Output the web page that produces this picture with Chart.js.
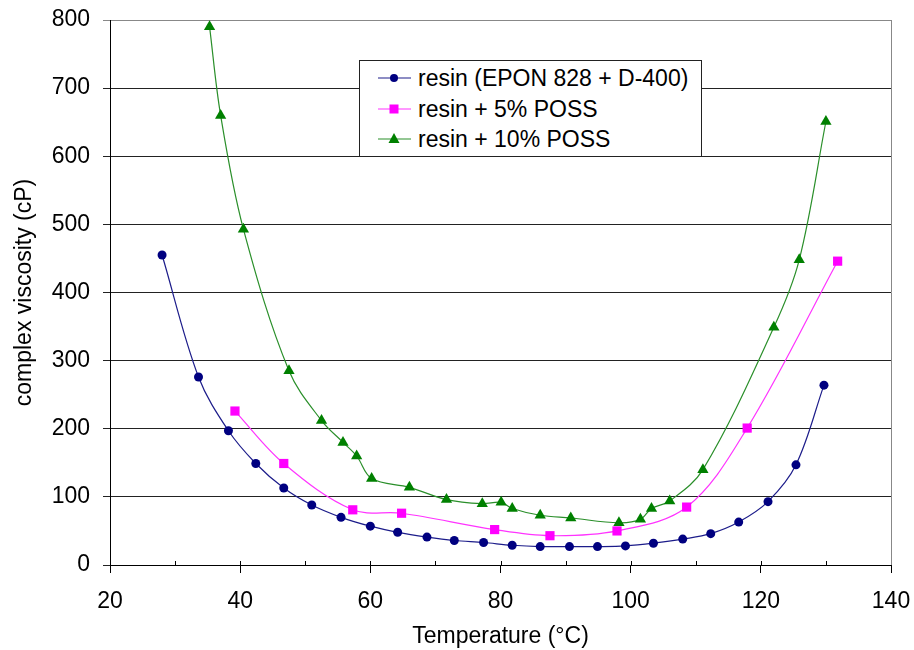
<!DOCTYPE html>
<html lang="en">
<head>
    <meta charset="UTF-8" />
    <title>Complex viscosity vs temperature</title>
    <script src="https://cdn.jsdelivr.net/npm/chart.js"></script>
    <style>
        body { margin: 0; background: #fff; }
        .wrap { position: relative; width: 914px; height: 650px; }
        .legend-box {
            position: absolute;
            left: 359px;
            top: 60px;
            width: 341px;
            height: 95px;
            border: 1px solid #222;
            background: #fff;
            font-family: 'Liberation Sans', Arial, sans-serif;
            font-size: 23px;
            color: #000;
        }
        .legend-row {
            position: absolute;
            left: 18px;
            height: 30px;
            display: flex;
            align-items: center;
            white-space: nowrap;
        }
        .legend-row svg { margin-right: 7px; }
    </style>
</head>
<body>
    <div class="wrap">
        <canvas id="viscChart" width="914" height="650"></canvas>
        <div class="legend-box" id="legend"></div>
    </div>

    <script>
        // values
        const seriesNames = ['resin (EPON 828 + D-400)', 'resin + 5% POSS', 'resin + 10% POSS'];

        const resinTemp = [28.0, 33.6, 38.2, 42.4, 46.7, 51.0, 55.5, 60.0, 64.2, 68.7, 72.9, 77.4,
                           81.8, 86.1, 90.6, 94.9, 99.2, 103.5, 108.0, 112.3, 116.6, 121.1, 125.4, 129.7];
        const resinVisc = [455, 276, 197, 149, 113, 88, 70, 57, 48, 41, 36, 33,
                           29, 27, 27, 27, 28, 32, 38, 46, 63, 93, 147, 264];

        const poss5Temp = [39.2, 46.7, 57.3, 64.8, 79.1, 87.6, 97.9, 108.6, 117.9, 131.8];
        const poss5Visc = [226, 149, 81, 76, 52, 43, 50, 85, 201, 446];

        const poss10Temp = [35.3, 37.0, 40.5, 47.5, 52.5, 55.8, 57.9, 60.2, 66.0, 71.7, 77.2, 80.1,
                            81.8, 86.1, 90.8, 98.2, 101.5, 103.2, 106.0, 111.1, 122.0, 125.9, 130.0];
        const poss10Visc = [790, 660, 493, 285, 212, 180, 160, 127, 114, 96, 90, 92,
                            83, 73, 69, 62, 67, 83, 94, 140, 349, 448, 651];

        const xTicks = [20, 40, 60, 80, 100, 120, 140];
        const yTicks = [0, 100, 200, 300, 400, 500, 600, 700, 800];

        const toPoints = (xs, ys) => xs.map((x, i) => ({ x: x, y: ys[i] }));

        const styles = [
            { line: '#1c1c8a', fill: '#000080', shape: 'circle', radius: 4.5 },
            { line: '#ff33ff', fill: '#ff00ff', shape: 'rect', radius: 6.5 },
            { line: '#2a8f2a', fill: '#008000', shape: 'triangle', radius: 6.5 }
        ];
        const seriesData = [
            toPoints(resinTemp, resinVisc),
            toPoints(poss5Temp, poss5Visc),
            toPoints(poss10Temp, poss10Visc)
        ];

        Chart.defaults.font.family = "'Liberation Sans', Arial, sans-serif";
        Chart.defaults.color = '#000';

        // minor ticks on the x axis (inside) and grey right border of the plot
        const frameExtras = {
            id: 'frameExtras',
            beforeDatasetsDraw(chart) {
                const { ctx, chartArea } = chart;
                const xs = chart.scales.x;
                ctx.save();
                ctx.strokeStyle = '#000';
                ctx.lineWidth = 1;
                ctx.beginPath();
                for (let v = 20; v <= 140; v += 10) {
                    const px = Math.round(xs.getPixelForValue(v)) + 0.5;
                    ctx.moveTo(px, chartArea.bottom - 4);
                    ctx.lineTo(px, chartArea.bottom);
                }
                ctx.stroke();
                ctx.strokeStyle = '#888';
                ctx.beginPath();
                const rx = Math.round(chartArea.right) + 0.5;
                ctx.moveTo(rx, chartArea.top);
                ctx.lineTo(rx, chartArea.bottom);
                ctx.stroke();
                ctx.restore();
            }
        };

        const chart = new Chart(document.getElementById('viscChart'), {
            type: 'line',
            data: {
                datasets: seriesData.map((pts, i) => ({
                    label: seriesNames[i],
                    data: pts,
                    borderColor: styles[i].line,
                    borderWidth: 1.2,
                    backgroundColor: styles[i].fill,
                    pointBackgroundColor: styles[i].fill,
                    pointBorderColor: styles[i].fill,
                    pointBorderWidth: 0,
                    pointStyle: styles[i].shape,
                    pointRadius: styles[i].radius,
                    pointHoverRadius: styles[i].radius,
                    tension: 0.35,
                    fill: false
                }))
            },
            options: {
                responsive: false,
                animation: false,
                layout: { padding: { left: 0, top: 20, right: 23, bottom: 0 } },
                plugins: {
                    legend: { display: false },
                    tooltip: { enabled: false }
                },
                scales: {
                    x: {
                        type: 'linear',
                        min: 20,
                        max: 140,
                        afterBuildTicks: (s) => { s.ticks = xTicks.map(v => ({ value: v })); },
                        afterFit: (s) => {
                            s.height = 85;
                            s.paddingLeft = 0;
                            s.paddingRight = 0;
                        },
                        grid: {
                            drawOnChartArea: false,
                            drawTicks: true,
                            tickLength: 8,
                            color: '#000'
                        },
                        border: { color: '#000', width: 1 },
                        ticks: { font: { size: 23 }, padding: 15, maxRotation: 0 },
                        title: {
                            display: true,
                            text: 'Temperature (°C)',
                            font: { size: 23 },
                            padding: { top: 0, bottom: 0 }
                        }
                    },
                    y: {
                        min: 0,
                        max: 800,
                        afterBuildTicks: (s) => { s.ticks = yTicks.map(v => ({ value: v })); },
                        afterFit: (s) => {
                            s.width = 110;
                            s.paddingTop = 0;
                            s.paddingBottom = 0;
                        },
                        grid: {
                            color: (c) => (c.tick && c.tick.value === 800 ? '#888' : '#222'),
                            tickLength: 7
                        },
                        border: { color: '#000', width: 1 },
                        ticks: { font: { size: 23 }, padding: 13 },
                        title: {
                            display: true,
                            text: 'complex viscosity (cP)',
                            font: { size: 23 },
                            padding: { top: 11, bottom: 0 }
                        }
                    }
                }
            },
            plugins: [frameExtras]
        });

        // legend drawn as html, one row per dataset
        function markerSvg(st) {
            let shape = '';
            if (st.shape === 'circle') {
                shape = `<circle cx="16" cy="10" r="4" fill="${st.fill}"/>`;
            } else if (st.shape === 'rect') {
                shape = `<rect x="11.5" y="5.5" width="9" height="9" fill="${st.fill}"/>`;
            } else {
                shape = `<polygon points="16,4 21.5,14 10.5,14" fill="${st.fill}"/>`;
            }
            return `<svg width="33" height="20"><line x1="0" y1="10" x2="33" y2="10" stroke="${st.line}" stroke-width="1.2"/>${shape}</svg>`;
        }

        const legendEl = document.getElementById('legend');
        const rowTops = [2, 33, 63];
        chart.data.datasets.forEach((ds, i) => {
            const row = document.createElement('div');
            row.className = 'legend-row';
            row.style.top = rowTops[i] + 'px';
            row.innerHTML = markerSvg(styles[i]) + '<span>' + ds.label + '</span>';
            legendEl.appendChild(row);
        });
    </script>
</body>
</html>
